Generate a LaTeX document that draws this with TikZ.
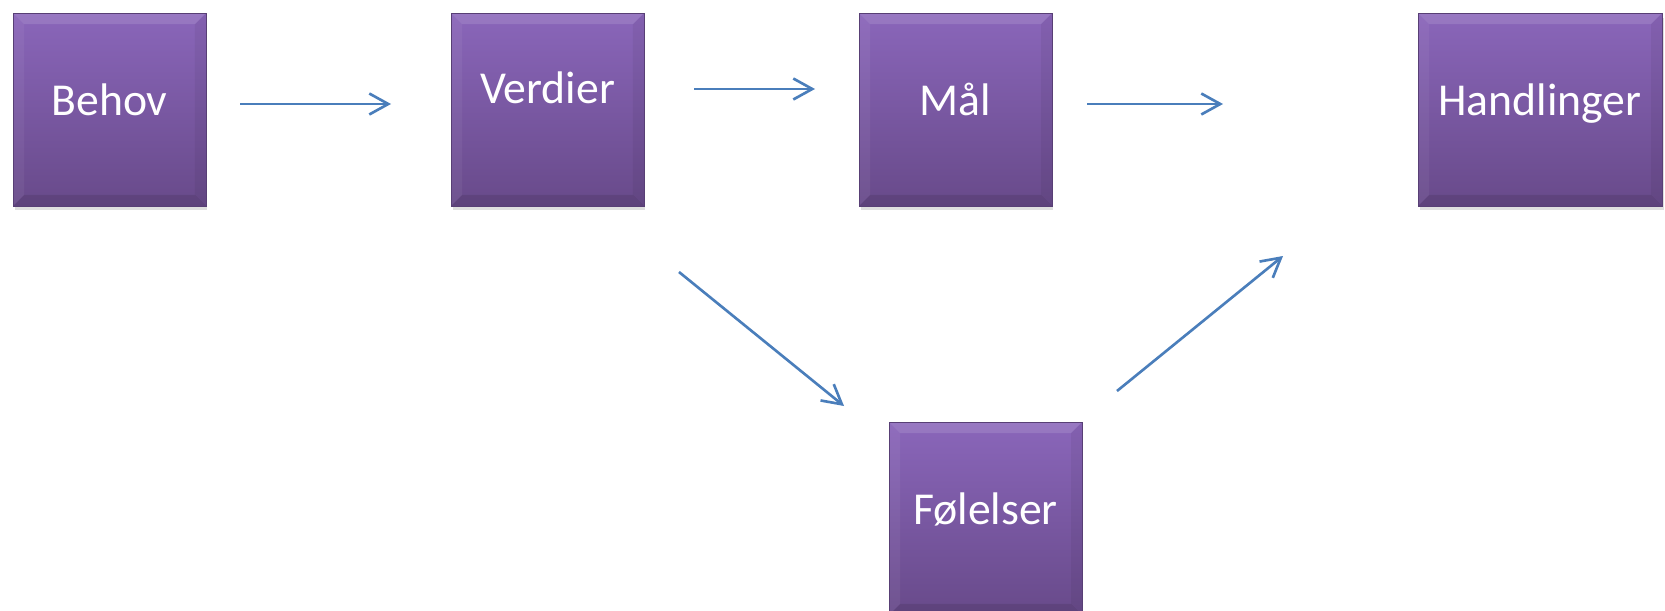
\documentclass[tikz,border=0pt]{standalone}
\usepackage{fontspec}
\setmainfont{Carlito}
\usepackage{xcolor}
\usetikzlibrary{shadows,arrows.meta}

\definecolor{boxtop}{HTML}{8A66BA}
\definecolor{boxbot}{HTML}{684A8A}
\definecolor{pilblue}{HTML}{4A7EBB}

\tikzset{
  boks/.style={rectangle, minimum width=3.86cm, minimum height=3.86cm, inner sep=0pt,
    top color=boxtop, bottom color=boxbot, draw=boxbot!85!black, line width=0.3pt,
    drop shadow={opacity=0.25, shadow xshift=0.03cm, shadow yshift=-0.09cm},
    text=white, font=\fontsize{26}{30}\selectfont, text height=0.644em, text depth=0pt,
    path picture={
      \fill[white,opacity=0.12] (path picture bounding box.north west) -- (path picture bounding box.north east)
        -- ([xshift=-0.22cm,yshift=-0.22cm]path picture bounding box.north east)
        -- ([xshift=0.22cm,yshift=-0.22cm]path picture bounding box.north west) -- cycle;
      \fill[white,opacity=0.05] (path picture bounding box.north west) -- (path picture bounding box.south west)
        -- ([xshift=0.22cm,yshift=0.22cm]path picture bounding box.south west)
        -- ([xshift=0.22cm,yshift=-0.22cm]path picture bounding box.north west) -- cycle;
      \fill[black,opacity=0.05] (path picture bounding box.north east) -- (path picture bounding box.south east)
        -- ([xshift=-0.22cm,yshift=0.22cm]path picture bounding box.south east)
        -- ([xshift=-0.22cm,yshift=-0.22cm]path picture bounding box.north east) -- cycle;
      \fill[black,opacity=0.1] (path picture bounding box.south west) -- (path picture bounding box.south east)
        -- ([xshift=-0.22cm,yshift=0.22cm]path picture bounding box.south east)
        -- ([xshift=0.22cm,yshift=0.22cm]path picture bounding box.south west) -- cycle;
    }},
  pil/.style={draw=pilblue, line width=1.5pt, -{Straight Barb[length=0.38cm,width=0.42cm]}}
}

\begin{document}
\begin{tikzpicture}[x=0.02cm,y=-0.02cm]
\useasboundingbox (0,0) rectangle (1665,611);
% boksene
\node[boks] (behov) at (109.5,109.5) {Behov};
\node[boks, text depth=0.46cm] (verdier) at (547.5,109.5) {Verdier};
\node[boks] (maal) at (955.5,109.5) {Mål};
\node[boks, minimum width=4.88cm] (handlinger) at (1540,109.5) {Handlinger};
\node[boks] (folelser) at (985.5,518.5) {Følelser};
% pilene
\coordinate (p1a) at (240,104);  \coordinate (p1b) at (391,104);
\coordinate (p2a) at (694,89);   \coordinate (p2b) at (815,89);
\coordinate (p3a) at (1087,104); \coordinate (p3b) at (1223,104);
\coordinate (p4a) at (679,272);  \coordinate (p4b) at (844,406);
\coordinate (p5a) at (1117,391); \coordinate (p5b) at (1283,256);
\draw[pil] (p1a) -- (p1b);
\draw[pil] (p2a) -- (p2b);
\draw[pil] (p3a) -- (p3b);
\draw[pil] (p4a) -- (p4b);
\draw[pil] (p5a) -- (p5b);
\end{tikzpicture}
\end{document}
